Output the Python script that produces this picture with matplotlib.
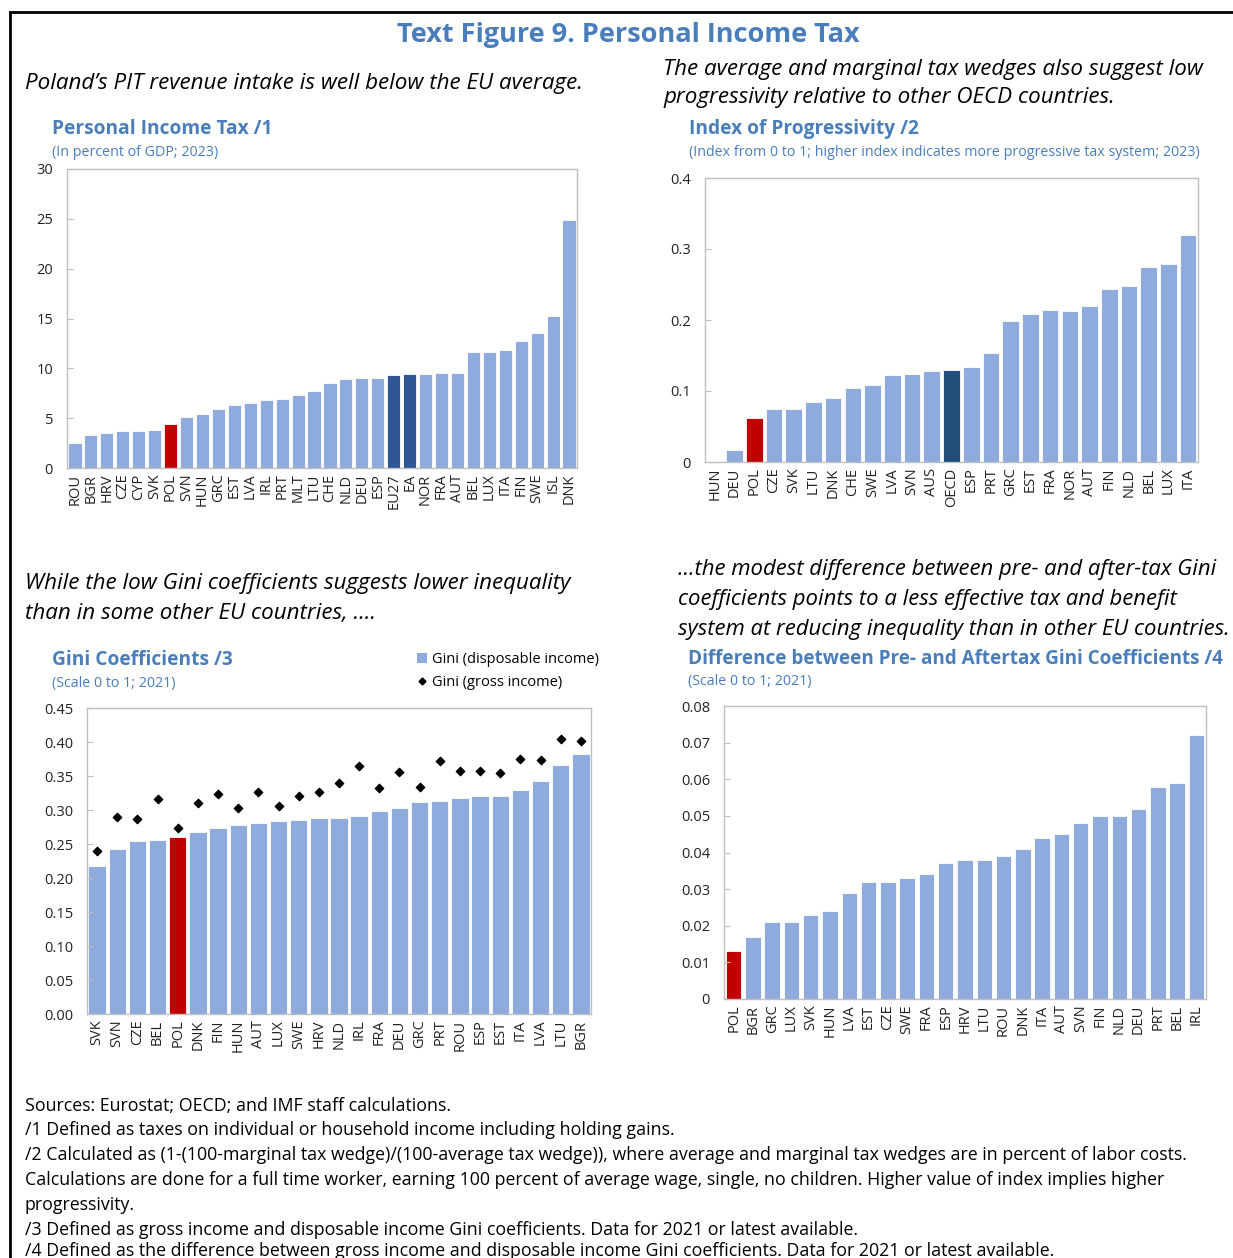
import matplotlib
matplotlib.use("Agg")
import matplotlib.pyplot as plt
from matplotlib.lines import Line2D
from matplotlib.patches import Patch

plt.rcParams['font.family'] = ['Open Sans', 'DejaVu Sans']

W, H = 1233, 1258

# ---------------- data ----------------
pit_countries = ["ROU", "BGR", "HRV", "CZE", "CYP", "SVK", "POL", "SVN", "HUN", "GRC", "EST", "LVA",
                 "IRL", "PRT", "MLT", "LTU", "CHE", "NLD", "DEU", "ESP", "EU27", "EA", "NOR", "FRA",
                 "AUT", "BEL", "LUX", "ITA", "FIN", "SWE", "ISL", "DNK"]
pit_values = [2.5, 3.3, 3.5, 3.7, 3.7, 3.8, 4.4, 5.1, 5.4, 5.9, 6.3, 6.5,
              6.8, 6.9, 7.3, 7.7, 8.5, 8.9, 9.0, 9.0, 9.3, 9.4, 9.4, 9.5,
              9.5, 11.6, 11.6, 11.8, 12.7, 13.5, 15.3, 24.9]

prog_countries = ["HUN", "DEU", "POL", "CZE", "SVK", "LTU", "DNK", "CHE", "SWE", "LVA", "SVN", "AUS",
                  "OECD", "ESP", "PRT", "GRC", "EST", "FRA", "NOR", "AUT", "FIN", "NLD", "BEL", "LUX", "ITA"]
prog_values = [0.0, 0.017, 0.062, 0.075, 0.074, 0.085, 0.090, 0.104, 0.109, 0.123, 0.124, 0.128,
               0.129, 0.134, 0.154, 0.199, 0.209, 0.214, 0.213, 0.220, 0.243, 0.248, 0.274, 0.279, 0.320]

gini_countries = ["SVK", "SVN", "CZE", "BEL", "POL", "DNK", "FIN", "HUN", "AUT", "LUX", "SWE", "HRV",
                  "NLD", "IRL", "FRA", "DEU", "GRC", "PRT", "ROU", "ESP", "EST", "ITA", "LVA", "LTU", "BGR"]
gini_disposable = [0.218, 0.243, 0.255, 0.256, 0.261, 0.268, 0.273, 0.278, 0.281, 0.284, 0.286, 0.288,
                   0.288, 0.291, 0.298, 0.303, 0.312, 0.313, 0.317, 0.320, 0.321, 0.330, 0.343, 0.366, 0.383]
gini_gross = [0.240, 0.290, 0.287, 0.316, 0.274, 0.310, 0.324, 0.303, 0.327, 0.306, 0.320, 0.327,
              0.339, 0.364, 0.333, 0.356, 0.334, 0.372, 0.357, 0.358, 0.354, 0.375, 0.373, 0.405, 0.401]

diff_countries = ["POL", "BGR", "GRC", "LUX", "SVK", "HUN", "LVA", "EST", "CZE", "SWE", "FRA", "ESP",
                  "HRV", "LTU", "ROU", "DNK", "ITA", "AUT", "SVN", "FIN", "NLD", "DEU", "PRT", "BEL", "IRL"]
diff_values = [0.013, 0.017, 0.021, 0.021, 0.023, 0.024, 0.029, 0.032, 0.032, 0.033, 0.034, 0.037,
               0.038, 0.038, 0.039, 0.041, 0.044, 0.045, 0.048, 0.050, 0.050, 0.052, 0.058, 0.059, 0.072]

# ---------------- style ----------------
LIGHT = "#8FAADC"
RED = "#C00000"
DARK1 = "#2F5597"
DARK2 = "#1F4E79"
TITLE_C = "#4A7EBB"
SPINE = "#BFBFBF"

fig = plt.figure(figsize=(W / 100, H / 100), dpi=100)


def px_axes(l, t, r, b):
    return fig.add_axes([l / W, 1 - b / H, (r - l) / W, (b - t) / H])


def ftext(x, y, s, **kw):
    fig.text(x / W, 1 - (y + 2) / H, s, va='center', **kw)


def style(ax, cats, ylim, yticks, yticklabels):
    ax.set_xlim(-0.5, len(cats) - 0.5)
    ax.set_ylim(*ylim)
    ax.set_yticks(yticks)
    ax.set_yticklabels(yticklabels, fontsize=10.5, color="#222222")
    ax.set_xticks(range(len(cats)))
    ax.set_xticklabels(cats, rotation=90, fontsize=10.5, color="#222222")
    ax.tick_params(axis='x', length=0, pad=4)
    ax.tick_params(axis='y', direction='in', length=4, color=SPINE, pad=10)
    for s in ax.spines.values():
        s.set_color(SPINE)
        s.set_linewidth(1.0)


def colors_for(cats, special):
    return [special.get(c, LIGHT) for c in cats]


# chart 1
ax1 = px_axes(67, 169, 577, 468)
ax1.bar(range(len(pit_countries)), pit_values, width=0.82,
        color=colors_for(pit_countries, {"POL": RED, "EU27": DARK1, "EA": DARK1}),
        edgecolor="white", linewidth=0.6)
style(ax1, pit_countries, (0, 30), [0, 5, 10, 15, 20, 25, 30], ["0", "5", "10", "15", "20", "25", "30"])

# chart 2
ax2 = px_axes(705, 178, 1198, 462)
ax2.bar(range(len(prog_countries)), prog_values, width=0.84,
        color=colors_for(prog_countries, {"POL": RED, "OECD": DARK2}),
        edgecolor="white", linewidth=0.6)
style(ax2, prog_countries, (0, 0.4), [0, 0.1, 0.2, 0.3, 0.4], ["0", "0.1", "0.2", "0.3", "0.4"])

# chart 3
ax3 = px_axes(87, 708, 591, 1014)
ax3.bar(range(len(gini_countries)), gini_disposable, width=0.86,
        color=colors_for(gini_countries, {"POL": RED}), edgecolor="white", linewidth=0.6)
ax3.scatter(range(len(gini_countries)), gini_gross, marker='D', s=18, color='black', zorder=3)
yt3 = [0, 0.05, 0.10, 0.15, 0.20, 0.25, 0.30, 0.35, 0.40, 0.45]
style(ax3, gini_countries, (0, 0.45), yt3, [f"{v:.2f}" for v in yt3])

# chart 4
ax4 = px_axes(724, 706, 1206, 999)
ax4.bar(range(len(diff_countries)), diff_values, width=0.8,
        color=colors_for(diff_countries, {"POL": RED}), edgecolor="white", linewidth=0.6)
yt4 = [0, 0.01, 0.02, 0.03, 0.04, 0.05, 0.06, 0.07, 0.08]
style(ax4, diff_countries, (0, 0.08), yt4, ["0"] + [f"{v:.2f}" for v in yt4[1:]])

# legend chart 3
handles = [Patch(facecolor=LIGHT, edgecolor='none', label="Gini (disposable income)"),
           Line2D([], [], marker='D', color='black', linestyle='none', markersize=3.5,
                  label="Gini (gross income)")]
fig.legend(handles=handles, loc='upper left', bbox_to_anchor=(417 / W, 1 - 652 / H),
           frameon=False, fontsize=10.5, handlelength=0.7, handletextpad=0.3,
           labelspacing=0.55, borderaxespad=0, borderpad=0)

# ---------------- texts ----------------
ftext(628, 33, "Text Figure 9. Personal Income Tax", ha='center', fontsize=19.5,
      fontweight='bold', color=TITLE_C)

IT = dict(fontsize=16.1, style='italic', color='black', ha='left')
IT2 = dict(IT, fontsize=15.9)
ftext(25, 81, "Poland\u2019s PIT revenue intake is well below the EU average.", **IT)
ftext(663, 67, "The average and marginal tax wedges also suggest low", **IT)
ftext(663, 96, "progressivity relative to other OECD countries.", **IT)
ftext(25, 582, "While the low Gini coefficients suggests lower inequality", **IT)
ftext(25, 612, "than in some other EU countries, ....", **IT)
ftext(678, 567, "...the modest difference between pre- and after-tax Gini", **IT2)
ftext(678, 597, "coefficients points to a less effective tax and benefit", **IT2)
ftext(678, 627, "system at reducing inequality than in other EU countries.", **IT2)

CT = dict(fontsize=13.8, fontweight='bold', color=TITLE_C, ha='left')
ST = dict(fontsize=10.25, color=TITLE_C, ha='left')
ftext(52, 127, "Personal Income Tax /1", **CT)
ftext(52, 151, "(In percent of GDP; 2023)", **ST)
ftext(689, 127, "Index of Progressivity /2", **CT)
ftext(689, 151, "(Index from 0 to 1; higher index indicates more progressive tax system; 2023)", **ST)
ftext(52, 658, "Gini Coefficients /3", **CT)
ftext(52, 682, "(Scale 0 to 1; 2021)", **ST)
ftext(688, 657, "Difference between Pre- and Aftertax Gini Coefficients /4", fontsize=13.6,
      fontweight='bold', color=TITLE_C, ha='left')
ftext(688, 680, "(Scale 0 to 1; 2021)", **ST)

FN = dict(fontsize=12.8, color='black', ha='left')
notes = [
    (1104, "Sources: Eurostat; OECD; and IMF staff calculations."),
    (1128, "/1 Defined as taxes on individual or household income including holding gains."),
    (1153, "/2 Calculated as (1-(100-marginal tax wedge)/(100-average tax wedge)), where average and marginal tax wedges are in percent of labor costs."),
    (1178, "Calculations are done for a full time worker, earning 100 percent of average wage, single, no children. Higher value of index implies higher"),
    (1203, "progressivity."),
    (1228, "/3 Defined as gross income and disposable income Gini coefficients. Data for 2021 or latest available."),
    (1249, "/4 Defined as the difference between gross income and disposable income Gini coefficients. Data for 2021 or latest available."),
]
for y, s in notes:
    ftext(25, y, s, **FN)

# frame
fig.add_artist(Line2D([10 / W, 1.0], [1 - 12 / H, 1 - 12 / H], color='black', linewidth=2))
fig.add_artist(Line2D([10 / W, 10 / W], [1 - 12 / H, 0], color='black', linewidth=2))

fig.savefig("out.png", dpi=100)
